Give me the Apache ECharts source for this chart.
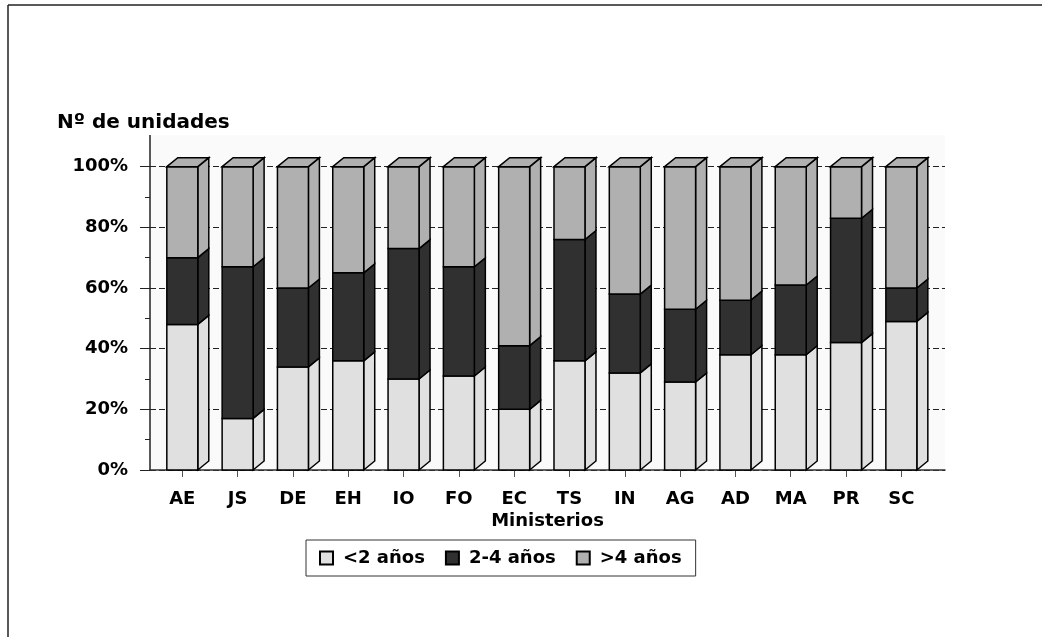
<!DOCTYPE html>
<html><head><meta charset="utf-8">
<script src="https://cdn.jsdelivr.net/npm/echarts@6/dist/echarts.min.js"></script>
<style>html,body{margin:0;padding:0;background:#fff}#c{width:1042px;height:637px}</style>
</head><body><div id="c"></div>
<script>
const categories = ['AE','JS','DE','EH','IO','FO','EC','TS','IN','AG','AD','MA','PR','SC'];
const lt2   = [48,17,34,36,30,31,20,36,32,29,38,38,42,49];
const y2to4 = [22,50,26,29,43,36,21,40,26,24,18,23,41,11];
const gt4   = [30,33,40,35,27,33,59,24,42,47,44,39,17,40];
const seriesNames = ['<2 años','2-4 años','>4 años'];
const seriesColors = ['#e0e0e0','#303030','#b0b0b0'];
const yTicks = [0,20,40,60,80,100];

const FONT = '"DejaVu Sans", sans-serif';
const chart = echarts.init(document.getElementById('c'), null, {renderer:'canvas'});

const values = [lt2, y2to4, gt4];
function segData(k){
  return categories.map((c,i)=>{
    let base=0; for(let j=0;j<k;j++) base+=values[j][i];
    return [i, base, base+values[k][i]];
  });
}
function makeRender(isTop){
  return function(params, api){
    const i=api.value(0), y0=api.value(1), y1=api.value(2);
    const pb=api.coord([i,y0]), pt=api.coord([i,y1]);
    const w=api.size([1,0])[0]*0.56, dx=11, dy=9;
    const l=pb[0]-w/2, r=pb[0]+w/2;
    const color=api.visual('color');
    const st={fill:color, stroke:'#000', lineWidth:1.5, lineJoin:'miter'};
    const ch=[
      {type:'polygon', shape:{points:[[r,pb[1]],[r+dx,pb[1]-dy],[r+dx,pt[1]-dy],[r,pt[1]]]}, style:st},
      {type:'rect', shape:{x:l,y:pt[1],width:w,height:pb[1]-pt[1]}, style:st}
    ];
    if(isTop) ch.push({type:'polygon', shape:{points:[[l,pt[1]],[l+dx,pt[1]-dy],[r+dx,pt[1]-dy],[r,pt[1]]]}, style:st});
    return {type:'group', children:ch};
  };
}

const option = {
  animation:false,
  backgroundColor:'#fff',
  title:{text:'Nº de unidades', left:52, top:108, textStyle:{fontFamily:FONT, fontWeight:'bold', fontSize:20, color:'#000'}},
  graphic:[
    {type:'rect', z:-10, silent:true, shape:{x:150,y:135,width:795,height:335}, style:{fill:'#fafafa'}},
    {type:'line', z:10, silent:true, shape:{x1:150,y1:135,x2:150,y2:167}, style:{stroke:'#222',lineWidth:1.5}},
    {type:'line', z:10, silent:true, shape:{x1:8,y1:5,x2:1042,y2:5}, style:{stroke:'#222',lineWidth:1.5}},
    {type:'line', z:10, silent:true, shape:{x1:8,y1:5,x2:8,y2:637}, style:{stroke:'#222',lineWidth:1.5}}
  ],
  legend:{
    left:306, top:540, orient:'horizontal',
    borderColor:'#333', borderWidth:1, padding:[9,14,9,13],
    itemWidth:13, itemHeight:13, itemGap:20, icon:'rect',
    data:seriesNames,
    textStyle:{fontFamily:FONT, fontWeight:'bold', fontSize:18, color:'#000', padding:[0,0,0,5]}
  },
  grid:[
    {left:150, right:97, top:166.7, bottom:167, containLabel:false},
    {left:154.65, right:113, top:166.7, bottom:167, containLabel:false}
  ],
  xAxis:[
    {gridIndex:0, type:'value', min:0, max:1, axisLabel:{show:false}, axisTick:{show:false}, splitLine:{show:false},
     axisLine:{show:true, lineStyle:{color:'#333', width:1.5}},
     name:'Ministerios', nameLocation:'middle', nameGap:42,
     nameTextStyle:{fontFamily:FONT, fontWeight:'bold', fontSize:18, color:'#000'}},
    {gridIndex:1, type:'category', data:categories, axisLine:{show:false},
     axisTick:{show:true, alignWithLabel:true, length:7, lineStyle:{color:'#555'}},
     axisLabel:{fontFamily:FONT, fontWeight:'bold', fontSize:18, color:'#000', margin:20}}
  ],
  yAxis:[
    {gridIndex:0, type:'value', min:0, max:100, interval:20,
     axisLine:{show:true, lineStyle:{color:'#222', width:1.5}},
     axisTick:{show:true, length:10, lineStyle:{color:'#222'}},
     minorTick:{show:true, splitNumber:2, length:5, lineStyle:{color:'#222'}},
     splitLine:{show:true, lineStyle:{color:'#222', type:[6,3], width:1}},
     axisLabel:{formatter:'{value}%', fontFamily:FONT, fontWeight:'bold', fontSize:18, color:'#000', margin:22}},
    {gridIndex:1, type:'value', min:0, max:100, show:false}
  ],
  series:[0,1,2].map(k=>({
    name:seriesNames[k], type:'custom', xAxisIndex:1, yAxisIndex:1,
    itemStyle:{color:seriesColors[k], borderColor:'#000', borderWidth:1},
    renderItem:makeRender(k===2), data:segData(k), encode:{x:0, y:[1,2]}, z:5
  }))
};
chart.setOption(option);
</script></body></html>
